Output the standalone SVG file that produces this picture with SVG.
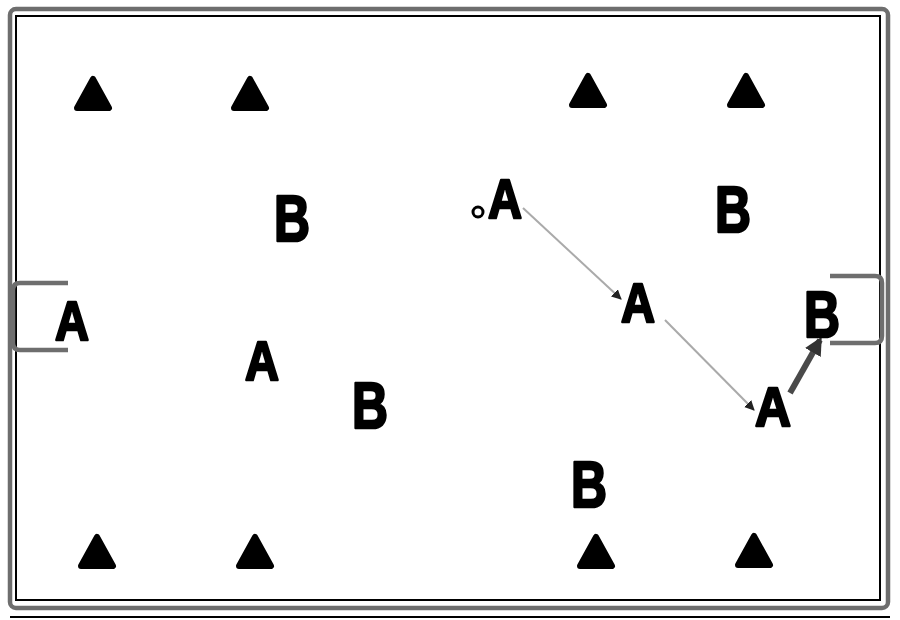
<svg xmlns="http://www.w3.org/2000/svg" width="900" height="620" viewBox="0 0 900 620">
<style>
.frame{fill:none;stroke:#6e6e6e;stroke-width:4.5}
.inner{fill:none;stroke:#000;stroke-width:2}
.cone{fill:#000;stroke:#000;stroke-width:6;stroke-linejoin:round}
.lbl{font-family:"Liberation Sans",Arial,sans-serif;font-weight:bold;fill:#000;stroke:#000;stroke-width:2.5;stroke-linejoin:round;text-anchor:middle}
.a{font-size:56px}
.b{font-size:64px}
.pass{stroke:#aaaaaa;stroke-width:2;fill:none}
.run{stroke:#4a4a4a;stroke-width:6;fill:none}
</style>
<defs>
<marker id="ah" viewBox="0 0 10 10" refX="9" refY="5" markerWidth="5" markerHeight="5" orient="auto" markerUnits="strokeWidth">
<path d="M0,0 L10,5 L0,10 z" fill="#222"/>
</marker>
<marker id="ah2" viewBox="0 0 10 10" refX="8" refY="5" markerWidth="3" markerHeight="3" orient="auto" markerUnits="strokeWidth">
<path d="M0,0 L10,5 L0,10 z" fill="#333"/>
</marker>
<path id="tri" d="M0,-15 L16,14 L-16,14 Z"/>
</defs>
<rect width="900" height="620" fill="#fff"/>
<g id="court">
<rect class="frame" x="10" y="9" width="878" height="599" rx="6"/>
<rect class="inner" x="16" y="16" width="864" height="584"/>
<line x1="10" y1="617" x2="890" y2="617" stroke="#000" stroke-width="2"/>
</g>
<g id="goal-left">
<path class="frame" d="M68,283 H20 Q13,283 13,290 V343 Q13,350 20,350 H68"/>
</g>
<g id="goal-right">
<path class="frame" d="M830,276 H875 Q882,276 882,283 V336 Q882,343 875,343 H830"/>
</g>
<g id="cones">
<use href="#tri" class="cone" x="93" y="94"/>
<use href="#tri" class="cone" x="250" y="94"/>
<use href="#tri" class="cone" x="588" y="91"/>
<use href="#tri" class="cone" x="746" y="91"/>
<use href="#tri" class="cone" x="97" y="552"/>
<use href="#tri" class="cone" x="255" y="552"/>
<use href="#tri" class="cone" x="596" y="552"/>
<use href="#tri" class="cone" x="754" y="551"/>
</g>
<g id="connectors">
<line class="pass" x1="523" y1="208" x2="621" y2="299" marker-end="url(#ah)"/>
<line class="pass" x1="665" y1="320" x2="754" y2="410" marker-end="url(#ah)"/>
<line class="run" x1="790" y1="393" x2="820" y2="340" marker-end="url(#ah2)"/>
</g>
<g id="ball">
<circle cx="478" cy="212" r="5" fill="none" stroke="#000" stroke-width="3"/>
</g>
<g id="players">
<g id="pA1"><text class="lbl a" x="505" y="218" textLength="34" lengthAdjust="spacingAndGlyphs">A</text></g>
<g id="pA2"><text class="lbl a" x="72" y="340" textLength="34" lengthAdjust="spacingAndGlyphs">A</text></g>
<g id="pA3"><text class="lbl a" x="262" y="380" textLength="34" lengthAdjust="spacingAndGlyphs">A</text></g>
<g id="pA4"><text class="lbl a" x="638" y="322" textLength="34" lengthAdjust="spacingAndGlyphs">A</text></g>
<g id="pA5"><text class="lbl a" x="773" y="426" textLength="36" lengthAdjust="spacingAndGlyphs">A</text></g>
<g id="pB1"><text class="lbl b" x="292" y="241" textLength="36" lengthAdjust="spacingAndGlyphs">B</text></g>
<g id="pB2"><text class="lbl b" x="733" y="232" textLength="36" lengthAdjust="spacingAndGlyphs">B</text></g>
<g id="pB3"><text class="lbl b" x="370" y="428" textLength="36" lengthAdjust="spacingAndGlyphs">B</text></g>
<g id="pB4"><text class="lbl b" x="822" y="337" textLength="36" lengthAdjust="spacingAndGlyphs">B</text></g>
<g id="pB5"><text class="lbl b" x="589" y="507" textLength="36" lengthAdjust="spacingAndGlyphs">B</text></g>
</g>
</svg>
